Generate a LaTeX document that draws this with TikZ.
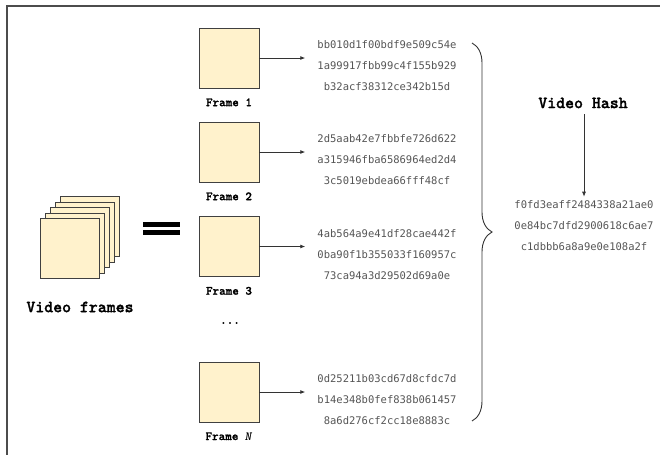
\documentclass[tikz,border=0pt]{standalone}
\usepackage{fontspec}
\newfontfamily\labfont{Latin Modern Mono Light}[BoldFeatures={FakeBold=1.3}]
\newfontfamily\hashfont{DejaVu Sans Mono}
\usetikzlibrary{arrows.meta,positioning,decorations.pathreplacing}
\definecolor{framefill}{HTML}{FFF2CC}
\definecolor{hashgray}{HTML}{555555}

\begin{document}
\begin{tikzpicture}[x=1pt,y=-1pt,node distance=10pt,
 fr/.style={draw=black!75,fill=framefill,minimum width=60pt,minimum height=60pt,inner sep=0pt},
 flab/.style={font=\fontsize{12.5}{13}\selectfont\labfont\bfseries,inner sep=1pt},
 hsh/.style={font=\fontsize{10.5}{21}\selectfont\hashfont,text=hashgray,align=center,inner sep=0pt},
 big/.style={font=\fontsize{17}{18}\selectfont\labfont\bfseries,inner sep=1pt},
 arr/.style={draw=black!80,line width=0.8pt,-{Latex[length=5pt,width=4pt]}}]
\useasboundingbox (0,0) rectangle (660,455);
\draw[line width=2pt,black!70] (660,6) -- (7,6) -- (7,455);
% stack of video frames
\foreach \i in {0,...,4}
  \node[fr,minimum width=59pt,anchor=north west] (s\i) at ({60-5*\i},{196+5.5*\i}) {};
\node[big] (vf) at (80,307) {Video frames};
\fill (143,222) rectangle (180,227);
\fill (143,230) rectangle (180,235);
% single frames and their hashes
\foreach \n/\y/\t/\ha/\hb/\hc in {
  1/58/1/bb010d1f00bdf9e509c54e/1a99917fbb99c4f155b929/b32acf38312ce342b15d,
  2/152/2/2d5aab42e7fbbfe726d622/a315946fba6586964ed2d4/3c5019ebdea66fff48cf,
  3/246.5/3/4ab564a9e41df28cae442f/0ba90f1b355033f160957c/73ca94a3d29502d69a0e,
  4/392/\textit{N}/0d25211b03cd67d8cfdc7d/b14e348b0fef838b061457/8a6d276cf2cc18e8883c}{
  \node[fr] (f\n) at (229,\y) {};
  \node[flab,below=9pt of f\n] (l\n) {Frame \t};
  \node[hsh] (h\n) at (387,\y+8) {\ha\\\hb\\\hc};
  \draw[arr,shorten >=12pt] (f\n.east) -- (f\n.east -| h\n.west);
}
\node[flab] (dots) at (230,323) {...};
% brace and video hash
\coordinate (btop) at (472,43);
\coordinate (bbot) at (472,421);
\draw[decorate,decoration={brace,amplitude=20pt},draw=black!80,line width=0.9pt] (btop) -- (bbot);
\node[big] (vh) at (583,103) {Video Hash};
\node[hsh] (vo) at (584,226) {f0fd3eaff2484338a21ae0\\0e84bc7dfd2900618c6ae7\\c1dbbb6a8a9e0e108a2f};
\draw[arr,shorten <=5pt,shorten >=4pt] (vh.south -| vo.north) -- (vo.north);
\end{tikzpicture}
\end{document}
